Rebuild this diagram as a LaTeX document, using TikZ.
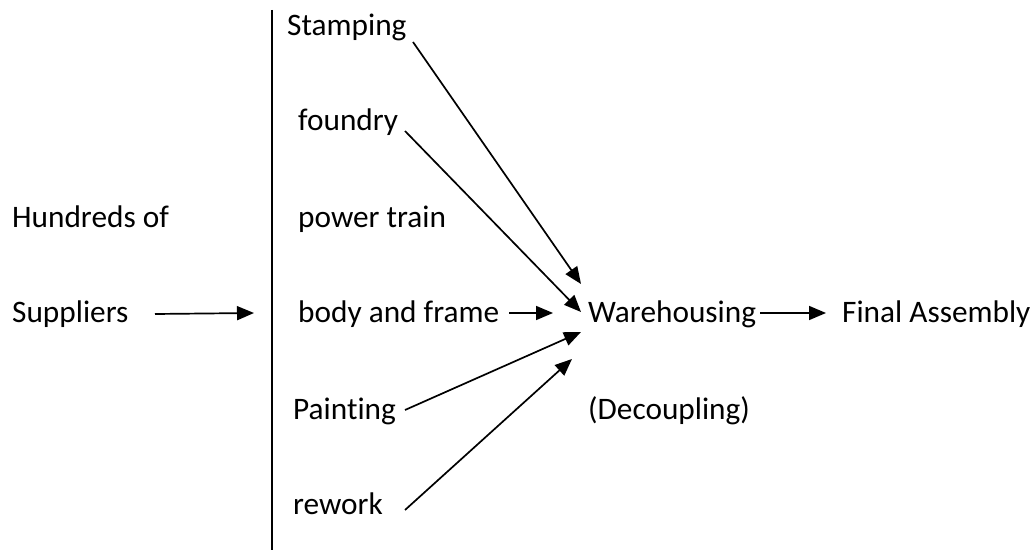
\documentclass[tikz,border=0pt]{standalone}
\usepackage{fontspec}
\setmainfont[Ligatures=NoCommon]{Carlito}
\usetikzlibrary{arrows.meta}
\begin{document}
\begin{tikzpicture}[x=1pt,y=-1pt,
  lbl/.style={anchor=base west, inner sep=0pt, font=\fontsize{31.3}{37}\selectfont},
  arr/.style={line width=1.7pt, -{Triangle[length=17pt,width=14pt]}},
  divider/.style={line width=1.8pt}]
\useasboundingbox (0,0) rectangle (1034,553);
% labels
\node[lbl] (hund) at (12,228) {Hundreds of};
\node[lbl] (supp) at (12,323) {Suppliers};
\node[lbl] (stamp) at (287,36) {Stamping};
\node[lbl] (found) at (298,131) {foundry};
\node[lbl] (power) at (298,228) {power train};
\node[lbl] (body) at (298,323) {body and frame};
\node[lbl] (paint) at (293,419) {Paint\kern0pt ing};
\node[lbl] (rework) at (293,514) {rework};
\node[lbl] (ware) at (588,323) {Warehousing};
\node[lbl] (decoup) at (588,419) {(Decoupling)};
\node[lbl] (final) at (842,323) {Final Assembly};
% divider line
\coordinate (vtop) at (272,10);
\coordinate (vbot) at (272,550);
\draw[divider] (vtop) -- (vbot);
% arrow end points
\coordinate (suppOut) at (155,314);
\coordinate (suppIn) at (254,313);
\coordinate (stampOut) at (413,42);
\coordinate (stampIn) at (581,284);
\coordinate (foundOut) at (405,131);
\coordinate (foundIn) at (581,312);
\coordinate (bodyOut) at (509,313);
\coordinate (bodyIn) at (553,313);
\coordinate (paintOut) at (405,410);
\coordinate (paintIn) at (581,332);
\coordinate (reworkOut) at (405,510);
\coordinate (reworkIn) at (572,359);
\coordinate (wareOut) at (760,313);
\coordinate (finalIn) at (826,313);
% connectors
\draw[arr] (suppOut) -- (suppIn);
\draw[arr] (stampOut) -- (stampIn);
\draw[arr] (foundOut) -- (foundIn);
\draw[arr] (bodyOut) -- (bodyIn);
\draw[arr] (paintOut) -- (paintIn);
\draw[arr] (reworkOut) -- (reworkIn);
\draw[arr] (wareOut) -- (finalIn);
\end{tikzpicture}
\end{document}
